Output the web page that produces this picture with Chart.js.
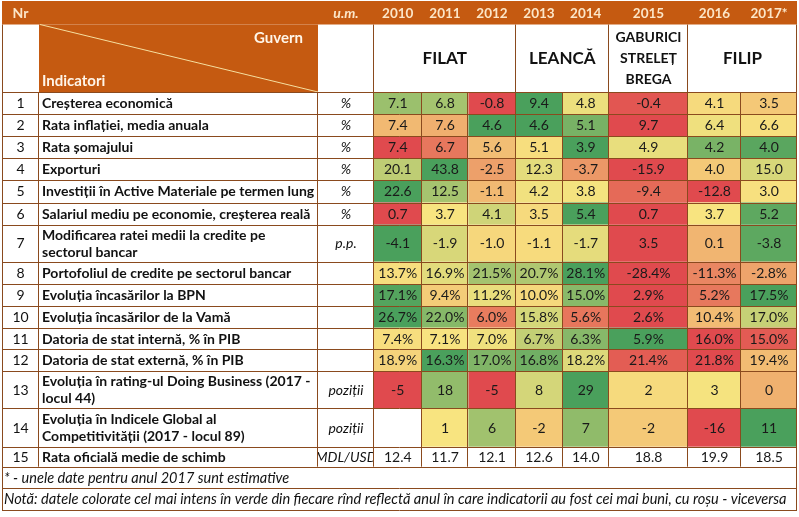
<!DOCTYPE html>
<html><head><meta charset="utf-8">
<script src="https://cdn.jsdelivr.net/npm/chart.js@4.4.1/dist/chart.umd.min.js"></script>
<style>html,body{margin:0;padding:0;background:#fff;}#wrap{width:799px;height:517px;}</style>
</head><body><div id="wrap"><canvas id="c" width="799" height="517"></canvas></div>
<script>
// ---------- DATA ----------
const years = ['2010','2011','2012','2013','2014','2015','2016','2017*'];
const governments = [['FILAT'],['LEANCĂ'],['GABURICI','STRELEȚ','BREGA'],['FILIP']];
const governmentSpan = [3,2,1,2];
const rowNumbers = ['1','2','3','4','5','6','7','8','9','10','11','12','13','14','15'];
const indicators = [
  ['Creșterea economică'],
  ['Rata inflației, media anuala'],
  ['Rata șomajului'],
  ['Exporturi'],
  ['Investiții în Active Materiale pe termen lung'],
  ['Salariul mediu pe economie, creșterea reală'],
  ['Modificarea ratei medii la credite pe','sectorul bancar'],
  ['Portofoliul de credite pe sectorul bancar'],
  ['Evoluția încasărilor la BPN'],
  ['Evoluția încasărilor de la Vamă'],
  ['Datoria de stat internă, % în PIB'],
  ['Datoria de stat externă, % în PIB'],
  ['Evoluția în rating-ul Doing Business (2017 -','locul 44)'],
  ['Evoluția în Indicele Global al','Competitivității (2017 - locul 89)'],
  ['Rata oficială medie de schimb']
];
const units = ['%','%','%','%','%','%','p.p.','','','','','','poziții','poziții','MDL/USD'];

const economicGrowth   = [7.1, 6.8, -0.8, 9.4, 4.8, -0.4, 4.1, 3.5];
const inflation        = [7.4, 7.6, 4.6, 4.6, 5.1, 9.7, 6.4, 6.6];
const unemployment     = [7.4, 6.7, 5.6, 5.1, 3.9, 4.9, 4.2, 4.0];
const exportsGrowth    = [20.1, 43.8, -2.5, 12.3, -3.7, -15.9, 4.0, 15.0];
const investments      = [22.6, 12.5, -1.1, 4.2, 3.8, -9.4, -12.8, 3.0];
const realWage         = [0.7, 3.7, 4.1, 3.5, 5.4, 0.7, 3.7, 5.2];
const creditRateChange = [-4.1, -1.9, -1.0, -1.1, -1.7, 3.5, 0.1, -3.8];
const creditPortfolio  = [13.7, 16.9, 21.5, 20.7, 28.1, -28.4, -11.3, -2.8];
const bpnRevenue       = [17.1, 9.4, 11.2, 10.0, 15.0, 2.9, 5.2, 17.5];
const customsRevenue   = [26.7, 22.0, 6.0, 15.8, 5.6, 2.6, 10.4, 17.0];
const domesticDebt     = [7.4, 7.1, 7.0, 6.7, 6.3, 5.9, 16.0, 15.0];
const externalDebt     = [18.9, 16.3, 17.0, 16.8, 18.2, 21.4, 21.8, 19.4];
const doingBusiness    = [-5, 18, -5, 8, 29, 2, 3, 0];
const competitiveness  = [null, 1, 6, -2, 7, -2, -16, 11];
const exchangeRate     = [12.4, 11.7, 12.1, 12.6, 14.0, 18.8, 19.9, 18.5];

const series = [economicGrowth, inflation, unemployment, exportsGrowth, investments, realWage,
  creditRateChange, creditPortfolio, bpnRevenue, customsRevenue, domesticDebt, externalDebt,
  doingBusiness, competitiveness, exchangeRate];
// direction of "better" for colour scale (null = not coloured)
const higherIsBetter = [true,false,false,true,true,true,false,true,true,true,false,false,true,true,null];
const valueSuffix = ['','','','','','','','%','%','%','%','%','','',''];
const decimals    = [1,1,1,1,1,1,1,1,1,1,1,1,0,0,1];
const footnote = '* - unele date pentru anul 2017 sunt estimative';
const note = 'Notă: datele colorate cel mai intens în verde din fiecare rînd reflectă anul în care indicatorii au fost cei mai buni, cu roșu - viceversa';

// ---------- LAYOUT (table units on the chart's linear scales) ----------
const colEdges = [2, 39, 318, 374, 421.5, 468.5, 515.5, 562.5, 609, 688, 741, 797];
const headerTop = 1, headerBottom = 24.5, guvernBottom = 92;
const rowEdges = [92, 114, 136.3, 158.3, 180.2, 202.5, 224.7, 261.7, 284, 306, 327.7, 349.3, 371, 408.3, 446.7, 466.7];
const footEdges = [466.7, 488.3, 510];

const C_RED = [224, 74, 78], C_YEL = [248, 228, 128], C_GRN = [74, 160, 92];
const ORANGE = '#C55A11', CREAM = '#FCE6C8', LINE = '#8A4A1E';
const FONT = 'Lato, "Open Sans", sans-serif';

function lerp(a,b,t){return a.map((v,i)=>Math.round(v+(b[i]-v)*t));}
function percentile(arr,p){const s=[...arr].sort((a,b)=>a-b);const r=p*(s.length-1);const lo=Math.floor(r),hi=Math.ceil(r);return s[lo]+(s[hi]-s[lo])*(r-lo);}
function cellColor(vals, v, hib){
  const vs = vals.filter(x=>x!==null);
  const mn = Math.min(...vs), mx = Math.max(...vs), md = percentile(vs,0.5);
  const lowC = hib ? C_RED : C_GRN, highC = hib ? C_GRN : C_RED;
  let c;
  if (v <= md) c = lerp(lowC, C_YEL, md===mn?1:(v-mn)/(md-mn));
  else c = lerp(C_YEL, highC, mx===md?1:(v-md)/(mx-md));
  return 'rgb('+c.join(',')+')';
}

const tablePlugin = {
  id:'table',
  afterDraw(chart){
    const ctx = chart.ctx, sx = chart.scales.x, sy = chart.scales.y;
    const X = v=>sx.getPixelForValue(v), Y = v=>sy.getPixelForValue(v);
    const rect=(x0,y0,x1,y1,col)=>{ctx.fillStyle=col;ctx.fillRect(X(x0),Y(y0),X(x1)-X(x0),Y(y1)-Y(y0));};
    const text=(s,x,y,font,col,align)=>{ctx.font=font;ctx.fillStyle=col;ctx.textAlign=align||'center';ctx.textBaseline='middle';ctx.fillText(s,X(x),Y(y));};
    ctx.save();
    // header band
    rect(colEdges[0],headerTop,colEdges[colEdges.length-1],headerBottom,ORANGE);
    // guvern/indicatori cell
    rect(colEdges[1],headerBottom,colEdges[2],guvernBottom,ORANGE);
    ctx.strokeStyle='#F6DFA0';ctx.lineWidth=1;ctx.beginPath();
    ctx.moveTo(X(colEdges[1]+1),Y(headerBottom));ctx.lineTo(X(colEdges[2]),Y(guvernBottom));ctx.stroke();
    // heat cells
    series.forEach((vals,r)=>{
      vals.forEach((v,c)=>{
        if (v===null || higherIsBetter[r]===null) return;
        rect(colEdges[c+3],rowEdges[r],colEdges[c+4],rowEdges[r+1],cellColor(vals,v,higherIsBetter[r]));
      });
    });
    // grid lines
    ctx.strokeStyle=LINE;ctx.lineWidth=1;
    const hl=(y,x0,x1)=>{const py=Math.round(Y(y))+0.5;ctx.beginPath();ctx.moveTo(X(x0),py);ctx.lineTo(X(x1),py);ctx.stroke();};
    const vl=(x,y0,y1)=>{const px=Math.round(X(x))-0.5;ctx.beginPath();ctx.moveTo(px,Y(y0));ctx.lineTo(px,Y(y1));ctx.stroke();};
    const L=colEdges[0], R=colEdges[colEdges.length-1];
    rowEdges.forEach(y=>hl(y,L,R));
    footEdges.forEach(y=>hl(y,L,R));
    colEdges.slice(1,-1).forEach(x=>vl(x,rowEdges[0],rowEdges[rowEdges.length-1]));
    vl(L+0.5,headerBottom,footEdges[2]); vl(R,headerBottom,footEdges[2]);
    // guvern row separators
    let ci=3; vl(colEdges[3],headerBottom,guvernBottom);
    governmentSpan.forEach(s=>{ci+=s; if(ci<colEdges.length-1) vl(colEdges[ci],headerBottom,guvernBottom);});
    // header texts
    const hy=(headerTop+headerBottom)/2+0.5;
    text('Nr',(colEdges[0]+colEdges[1])/2,hy,'bold 14px '+FONT,CREAM);
    text('u.m.',(colEdges[2]+colEdges[3])/2,hy,'italic bold 14px '+FONT,CREAM);
    years.forEach((yr,i)=>text(yr,(colEdges[i+3]+colEdges[i+4])/2,hy,'bold 13.5px '+FONT,CREAM));
    text('Guvern',303,38,'bold 15px '+FONT,'#FFF5E8','right');
    text('Indicatori',42,81,'bold 15px '+FONT,'#FFF5E8','left');
    // government names
    ci=3;
    governments.forEach((g,i)=>{
      const x0=colEdges[ci], x1=colEdges[ci+governmentSpan[i]]; ci+=governmentSpan[i];
      const mid=(headerBottom+guvernBottom)/2;
      if(g.length===1) text(g[0],(x0+x1)/2,mid,'bold 17px '+FONT,'#111');
      else g.forEach((s,k)=>text(s,(x0+x1)/2,mid+(k-(g.length-1)/2)*21,'bold 14px '+FONT,'#111'));
    });
    // body rows
    series.forEach((vals,r)=>{
      const y0=rowEdges[r], y1=rowEdges[r+1], ym=(y0+y1)/2+0.5;
      text(rowNumbers[r],(colEdges[0]+colEdges[1])/2,ym,'14px '+FONT,'#111');
      const lines=indicators[r];
      lines.forEach((s,k)=>text(s,42,ym+(k-(lines.length-1)/2)*17,'bold 14px '+FONT,'#111','left'));
      if(units[r]){
        ctx.save();ctx.beginPath();ctx.rect(X(colEdges[2]),Y(y0),X(colEdges[3])-X(colEdges[2])-1,Y(y1)-Y(y0));ctx.clip();
        text(units[r],(colEdges[2]+colEdges[3])/2,ym,'italic 14px '+FONT,'#111');
        ctx.restore();
      }
      vals.forEach((v,c)=>{
        if(v===null) return;
        text(v.toFixed(decimals[r])+valueSuffix[r],(colEdges[c+3]+colEdges[c+4])/2,ym,'14px '+FONT,'#1a1a1a');
      });
    });
    // footer
    text(footnote,4,(footEdges[0]+footEdges[1])/2+0.5,'italic 14.5px '+FONT,'#111','left');
    text(note,4,(footEdges[1]+footEdges[2])/2+0.5,'italic 14.6px '+FONT,'#111','left');
    ctx.restore();
  }
};

new Chart(document.getElementById('c').getContext('2d'), {
  type:'scatter',
  data:{datasets:[]},
  options:{
    responsive:false, animation:false, events:[],
    layout:{padding:0},
    plugins:{legend:{display:false},tooltip:{enabled:false},title:{display:false}},
    scales:{
      x:{type:'linear',min:0,max:799,display:false},
      y:{type:'linear',min:0,max:517,reverse:true,display:false}
    }
  },
  plugins:[tablePlugin]
});
</script></body></html>
